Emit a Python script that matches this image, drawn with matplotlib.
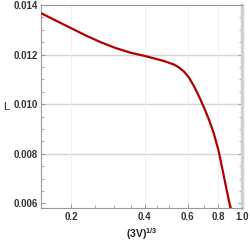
import matplotlib
matplotlib.use("Agg")
import matplotlib.pyplot as plt
from matplotlib.ticker import FixedLocator, NullFormatter

x_vals = [0.1507, 0.1734, 0.2000, 0.2295, 0.2640, 0.3037, 0.3494, 0.4020, 0.4373,
          0.4801, 0.5272, 0.5524, 0.5788, 0.6064, 0.6355, 0.6659, 0.6977, 0.7311,
          0.7661, 0.8027, 0.8411, 0.8814, 0.9064]
L_vals = [0.013665, 0.013362, 0.013059, 0.012768, 0.012497, 0.012263, 0.012077,
          0.011939, 0.011846, 0.011737, 0.011596, 0.011475, 0.011313, 0.011071,
          0.010727, 0.010323, 0.009879, 0.009394, 0.008828, 0.008101, 0.007131,
          0.006162, 0.005596]
x_ticks = [0.2, 0.4, 0.6, 0.8, 1.0]
x_ticklabels = ["0.2", "0.4", "0.6", "0.8", "1.0"]
x_minor = [0.25, 0.3, 0.35, 0.45, 0.5, 0.7, 0.9]
y_ticks = [0.006, 0.008, 0.010, 0.012, 0.014]
y_ticklabels = ["0.006", "0.008", "0.010", "0.012", "0.014"]
y_minor = [0.0065, 0.007, 0.0075, 0.0085, 0.009, 0.0095,
           0.0105, 0.011, 0.0115, 0.0125, 0.013, 0.0135]

plt.rcParams['font.family'] = ['Liberation Sans', 'DejaVu Sans']
plt.rcParams['font.weight'] = 'bold'
plt.rcParams['mathtext.fontset'] = 'custom'
plt.rcParams['mathtext.rm'] = 'Liberation Sans:bold'
plt.rcParams['mathtext.it'] = 'Liberation Sans:bold'
plt.rcParams['mathtext.bf'] = 'Liberation Sans:bold'

fig = plt.figure(figsize=(2.5, 2.4), dpi=100)
ax = fig.add_axes([0.164, 0.133, 0.804, 0.846])
ax.set_xscale('log')
ax.set_xlim(0.15, 1.0)
ax.set_ylim(0.00581, 0.014)

for yv in [0.008, 0.010, 0.012]:
    ax.axhline(yv, color='#d6d6d6', lw=1.0, zorder=1)
for xv in [0.2, 0.4, 0.6, 0.8]:
    ax.axvline(xv, color='#ececec', lw=0.6, zorder=1)

ax.plot(x_vals, L_vals, color='#b00000', lw=1.6, zorder=3,
        solid_joinstyle='round', solid_capstyle='round')

ax.xaxis.set_major_locator(FixedLocator(x_ticks))
ax.set_xticklabels(x_ticklabels, fontweight='bold')
ax.xaxis.set_minor_locator(FixedLocator(x_minor))
ax.xaxis.set_minor_formatter(NullFormatter())
ax.set_yticks(y_ticks)
ax.set_yticklabels(y_ticklabels, fontweight='bold')
ax.yaxis.set_minor_locator(FixedLocator(y_minor))

ax.tick_params(axis='both', which='major', direction='in', length=3, width=0.6,
               color='#888888', labelsize=7, labelcolor='#333333', pad=2.5)
ax.tick_params(axis='both', which='minor', direction='in', length=2, width=0.5,
               color='#888888')
ax.tick_params(axis='y', which='both', right=True)

for s in ['left', 'bottom', 'top']:
    ax.spines[s].set_color('#999999')
    ax.spines[s].set_linewidth(0.8)
ax.spines['right'].set_color('#d0d0d0')
ax.spines['right'].set_linewidth(2.5)

ax.set_xlabel(r'$\mathbf{(3V)^{1/3}}$', fontsize=7.5, color='#222222', labelpad=3)
ax.set_ylabel('L', fontsize=8, color='#222222', rotation=0, labelpad=5,
              va='center', fontweight='normal')

fig.savefig('out.png', dpi=100)
